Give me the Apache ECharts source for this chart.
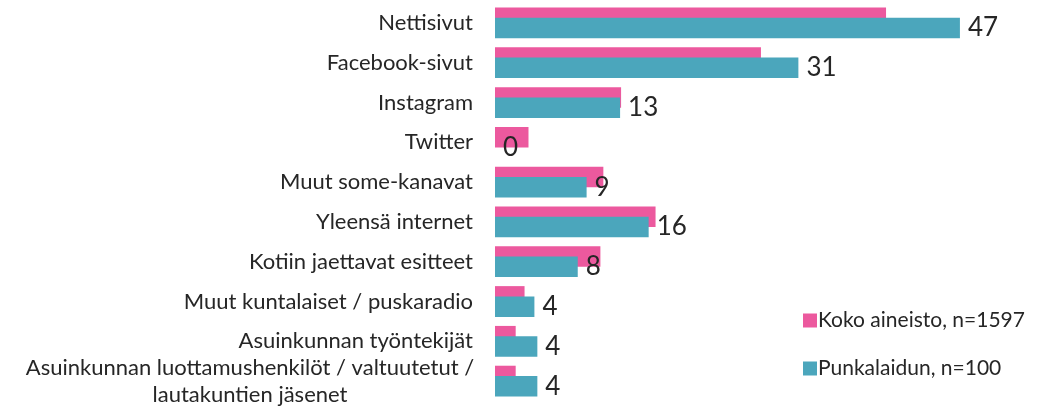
<!DOCTYPE html>
<html>
<head>
<meta charset="utf-8">
<script src="https://cdn.jsdelivr.net/npm/echarts@6/dist/echarts.min.js"></script>
<style>
    html, body { margin: 0; padding: 0; background: #fff; }
    #chart { width: 1061px; height: 409px; }
</style>
</head>
<body>
<div id="chart"></div>
<script>
// kategoriat ylhäältä alas
const categories = [
    'Nettisivut',
    'Facebook-sivut',
    'Instagram',
    'Twitter',
    'Muut some-kanavat',
    'Yleensä internet',
    'Kotiin jaettavat esitteet',
    'Muut kuntalaiset / puskaradio',
    'Asuinkunnan työntekijät',
    'Asuinkunnan luottamushenkilöt / valtuutetut /\nlautakuntien jäsenet'
];

// Koko aineisto (ei arvolappuja)
const kokoValues = [39.7, 27.0, 12.8, 3.4, 11.0, 16.3, 10.7, 3.0, 2.1, 2.1];
// Punkalaidun
const punkaValues = [47.2, 30.8, 12.7, 0, 9.3, 15.6, 8.4, 4.0, 4.3, 4.3];

const seriesNames = ['Koko aineisto, n=1597', 'Punkalaidun, n=100'];

const font = 'Lato, "Noto Sans", sans-serif';

const chart = echarts.init(document.getElementById('chart'));

// viimeinen kahden rivin nimi keskitetään rivien kesken
const yData = categories.map((c) => {
    if (c.indexOf('\n') < 0) return c;
    return {
        value: c,
        textStyle: { align: 'center', padding: [2, 446, 0, 0], lineHeight: 27 }
    };
});

chart.setOption({
    animation: false,
    textStyle: { fontFamily: font },
    grid: { left: 495, top: 3, height: 400, right: 73.5, containLabel: false },
    legend: {
        orient: 'vertical',
        left: 798,
        top: 305,
        itemWidth: 14,
        itemHeight: 14,
        itemGap: 27,
        icon: 'rect',
        textStyle: { fontSize: 21, color: '#262626', fontFamily: font, padding: [0, 0, 0, -4] },
        data: seriesNames
    },
    xAxis: {
        type: 'value',
        min: 0,
        max: 50,
        show: false
    },
    yAxis: {
        type: 'category',
        inverse: true,
        data: yData,
        axisLine: { show: false },
        axisTick: { show: false },
        axisLabel: {
            margin: 22,
            fontSize: 22,
            color: '#262626',
            fontFamily: font
        }
    },
    series: [
        {
            name: seriesNames[0],
            type: 'bar',
            data: kokoValues,
            barWidth: 20.5,
            barGap: '-50%',
            itemStyle: { color: '#EC599E' }
        },
        {
            name: seriesNames[1],
            type: 'bar',
            data: punkaValues,
            barWidth: 20.5,
            barGap: '-50%',
            itemStyle: { color: '#4BA6BC' },
            label: {
                show: true,
                position: 'right',
                distance: 8,
                fontSize: 26,
                color: '#262626',
                fontFamily: font,
                formatter: (p) => Math.round(p.value)
            }
        }
    ]
});
</script>
</body>
</html>
